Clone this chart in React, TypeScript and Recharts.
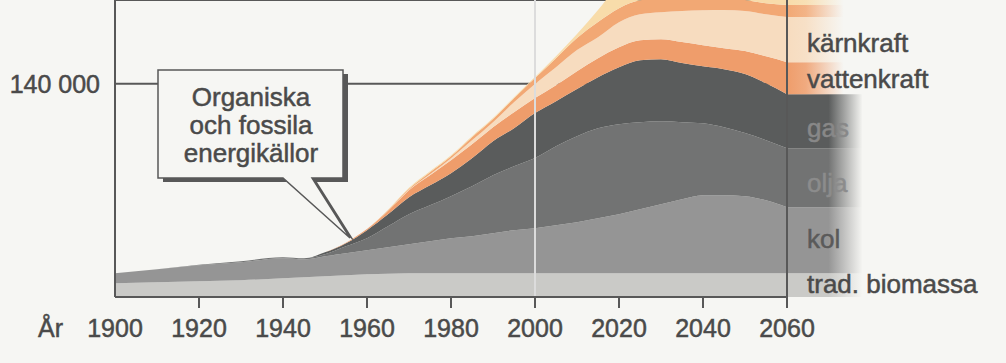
import React from "react";
import {
  AreaChart,
  Area,
  XAxis,
  YAxis,
  CartesianGrid,
  ReferenceLine,
  ReferenceArea,
} from "recharts";

// ---------- data ----------
const years = [
  1900, 1910, 1920, 1930, 1940, 1945, 1950, 1955, 1960, 1965, 1970, 1975, 1980,
  1985, 1990, 1995, 2000, 2005, 2010, 2015, 2020, 2025, 2030, 2035, 2040, 2045,
  2050, 2055, 2060,
];
const tradBiomassa = [
  9000, 9700, 10300, 11000, 12300, 12900, 13600, 14300, 14900, 15200, 15600,
  15600, 15600, 15600, 15600, 15600, 15600, 15600, 15600, 15600, 15600, 15600,
  15600, 15600, 15600, 15600, 15600, 15600, 15600,
];
const kol = [
  6600, 8500, 10500, 11800, 13100, 11800, 13100, 14400, 15800, 17400, 19000,
  21000, 23000, 24300, 26300, 28200, 29600, 31500, 33500, 36100, 38800, 42000,
  45300, 48600, 51200, 51200, 50600, 47900, 43300,
];
const olja = [
  0, 0, 300, 700, 700, 700, 1300, 4600, 7900, 13800, 19700, 23600, 27600, 32800,
  38100, 42000, 46000, 51900, 56500, 59100, 59100, 57100, 54500, 50600, 47300,
  44700, 41400, 39400, 38800,
];
const gas = [
  0, 0, 0, 0, 0, 0, 1300, 2000, 5300, 7900, 11200, 13100, 15100, 18400, 22300,
  25000, 29600, 29600, 30900, 33500, 37400, 40700, 40700, 38800, 37400, 38100,
  38800, 37400, 35500,
];
const vattenkraft = [
  0, 0, 0, 0, 0, 0, 0, 300, 700, 2000, 4600, 6600, 8500, 9200, 9200, 10500, 9900,
  10500, 11800, 12500, 13100, 13100, 13100, 13800, 13800, 13800, 15100, 17700,
  21000,
];
const karnkraft = [
  0, 0, 0, 0, 0, 0, 0, 0, 0, 0, 300, 700, 1300, 2600, 3300, 6600, 9200, 11800,
  13800, 13800, 16400, 17100, 17700, 20400, 23000, 25000, 26300, 27600, 29600,
];
const fornybart = [
  0, 0, 0, 0, 0, 0, 0, 0, 0, 700, 700, 1300, 1300, 2000, 2000, 2600, 3900, 5900,
  7900, 9900, 9200, 9200, 9200, 9200, 8500, 7900, 7200, 7200, 7900,
];
const ovrigt = [
  0, 0, 0, 0, 0, 0, 0, 0, 0, 300, 700, 700, 700, 700, 700, 700, 700, 1300, 2600,
  7900, 15000, 15000, 15000, 15000, 15000, 15000, 15000, 15000, 15000,
];
const xTicks = [1900, 1920, 1940, 1960, 1980, 2000, 2020, 2040, 2060];
const yTicks = [140000];
const yTickLabels = ["140 000"];
const labelNames = [
  "kärnkraft",
  "vattenkraft",
  "gas",
  "olja",
  "kol",
  "trad. biomassa",
];

// ---------- styling ----------
const FONT = '"Liberation Sans", Arial, Helvetica, sans-serif';
const BG = "#f6f6f3";
const AXIS = "#585858";
const TEXT = "#4a4a4a";

const series = [
  { key: "tradBiomassa", values: tradBiomassa, color: "#cacac7", gray: true },
  { key: "kol", values: kol, color: "#959595", gray: true },
  { key: "olja", values: olja, color: "#727373", gray: true },
  { key: "gas", values: gas, color: "#5a5c5c", gray: true },
  { key: "vattenkraft", values: vattenkraft, color: "#ef9d6b", gray: false },
  { key: "karnkraft", values: karnkraft, color: "#f7dcbf", gray: false },
  { key: "fornybart", values: fornybart, color: "#f2a874", gray: false },
  { key: "ovrigt", values: ovrigt, color: "#f8dcaa", gray: false },
];

const data = years.map((y, i) => {
  const row: Record<string, number> = { year: y };
  series.forEach((s) => (row[s.key] = s.values[i]));
  return row;
});

// cumulative bounds at the last year for the bands behind the labels
const last = years.length - 1;
const bands = (() => {
  let acc = 0;
  return series.map((s) => {
    const lo = acc;
    acc += s.values[last];
    return { ...s, lo, hi: acc };
  });
})();

const XTick = (props: any) => {
  const { x, y, payload } = props;
  const v = payload.value;
  return (
    <g>
      {v !== years[0] && (
        <line x1={x} x2={x} y1={y - 22} y2={y - 11} stroke={AXIS} strokeWidth={2} />
      )}
      <text
        x={x}
        y={y}
        dy="0.71em"
        textAnchor="middle"
        fill={TEXT}
        stroke={TEXT}
        strokeWidth={0.5}
        fontSize={25}
        fontFamily={FONT}
      >
        {v}
      </text>
    </g>
  );
};

const labelPos = [
  { y: 52, color: TEXT },
  { y: 88, color: TEXT },
  { y: 137, color: "#888888" },
  { y: 192, color: "#8c8c8c" },
  { y: 248, color: "#5a5a5a" },
  { y: 293, color: TEXT },
];

export default function App() {
  const calloutPath = "M158,70 H343 V178 H312 L350,238 L283,178 H158 Z";
  return (
    <div
      style={{
        position: "fixed",
        left: 0,
        top: 0,
        width: 1006,
        height: 363,
        background: BG,
        overflow: "hidden",
      }}
    >
      <AreaChart
        width={1006}
        height={363}
        data={data}
        margin={{ top: 0, right: 219, bottom: 0, left: 0 }}
      >
        <defs>
          {bands.map((b) => (
            <linearGradient key={b.key} id={`fade-${b.key}`} x1="0" y1="0" x2="1" y2="0">
              <stop offset="0" stopColor={b.color} stopOpacity={1} />
              <stop offset={b.gray ? 0.55 : 0.25} stopColor={b.color} stopOpacity={b.gray ? 1 : 0.85} />
              <stop offset={b.gray ? 1 : 0.75} stopColor={b.color} stopOpacity={0} />
            </linearGradient>
          ))}
        </defs>
        <CartesianGrid vertical={false} stroke={AXIS} strokeWidth={2} />
        <XAxis
          dataKey="year"
          type="number"
          domain={[1900, 2060]}
          ticks={xTicks}
          interval={0}
          height={66}
          tickSize={11}
          tickMargin={11}
          tickLine={false}
          axisLine={{ stroke: AXIS, strokeWidth: 2 }}
          tick={<XTick />}
        />
        <YAxis
          type="number"
          domain={[0, 195000]}
          allowDataOverflow
          ticks={yTicks}
          width={115}
          tickSize={0}
          tickMargin={15}
          tickLine={false}
          axisLine={{ stroke: AXIS, strokeWidth: 2 }}
          tickFormatter={(v: number) => yTickLabels[yTicks.indexOf(v)] ?? String(v)}
          tick={{ fill: TEXT, stroke: TEXT, strokeWidth: 0.5, fontSize: 25, fontFamily: FONT }}
        />
        {series.map((s) => (
          <Area
            key={s.key}
            dataKey={s.key}
            stackId="1"
            type="monotone"
            stroke="none"
            fill={s.color}
            fillOpacity={1}
            isAnimationActive={false}
          />
        ))}
        {bands.map((b) => (
          <ReferenceArea
            key={`ext-${b.key}`}
            x1={2060}
            x2={2078}
            y1={b.lo}
            y2={b.hi}
            ifOverflow="visible"
            fill={`url(#fade-${b.key})`}
            fillOpacity={1}
            stroke="none"
          />
        ))}
        <ReferenceLine x={2000} stroke="#dcdcdc" strokeWidth={2} />
        <ReferenceLine x={2060} stroke={AXIS} strokeWidth={2} />
      </AreaChart>

      <svg
        width={1006}
        height={363}
        style={{ position: "absolute", left: 0, top: 0, pointerEvents: "none" }}
        fontFamily={FONT}
      >
        {/* callout */}
        <path d={calloutPath} transform="translate(5,4)" fill={AXIS} />
        <path d={calloutPath} fill={BG} stroke={AXIS} strokeWidth={1.5} />
        <g fontSize={26} fill={TEXT} stroke={TEXT} strokeWidth={0.5} textAnchor="middle">
          <text x={251} y={106}>Organiska</text>
          <text x={251} y={134}>och fossila</text>
          <text x={251} y={162}>energikällor</text>
        </g>
        <text x={38} y={337} fontSize={25} fill={TEXT} stroke={TEXT} strokeWidth={0.5}>
          År
        </text>
        {labelNames.map((n, i) => (
          <text
            key={n}
            x={807}
            y={labelPos[i].y}
            fontSize={26}
            fill={labelPos[i].color}
            stroke={labelPos[i].color}
            strokeWidth={0.5}
          >
            {n}
          </text>
        ))}
      </svg>
    </div>
  );
}
